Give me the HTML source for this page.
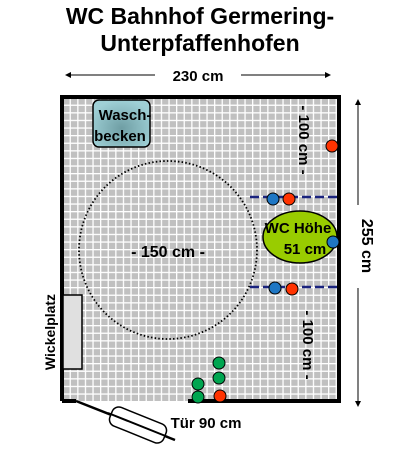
<!DOCTYPE html>
<html><head><meta charset="utf-8"><style>
body{margin:0;background:#fff}
svg text{font-family:"Liberation Sans",sans-serif;font-weight:bold}
</style></head><body>
<svg width="400" height="450" viewBox="0 0 400 450">
<defs>
<pattern id="grid" x="62" y="97" width="7.6" height="7.6" patternUnits="userSpaceOnUse">
<rect width="7.6" height="7.6" fill="#c0c0c0"/>
<path d="M0 0.6H7.6M0.6 0V7.6" stroke="#fff" stroke-width="1.4"/>
</pattern>
<radialGradient id="sink" cx="0.5" cy="0.6" r="0.6"><stop offset="0" stop-color="#6f9ea4"/><stop offset="1" stop-color="#9fd0d6"/></radialGradient>
</defs>
<text x="200" y="24" text-anchor="middle" font-size="23">WC Bahnhof Germering-</text>
<text x="200" y="51" text-anchor="middle" font-size="23">Unterpfaffenhofen</text>
<g>
<line x1="67" y1="75" x2="155" y2="75" stroke="#000"/><path d="M65 75l6-3v6z"/>
<line x1="241" y1="75" x2="328" y2="75" stroke="#000"/><path d="M331 75l-6-3v6z"/>
<text x="198" y="81" text-anchor="middle" font-size="15">230 cm</text>
</g>
<rect x="62" y="97" width="277" height="304" fill="url(#grid)"/>
<g stroke="#000" stroke-width="4" fill="none">
<path d="M62 401V97H339V401H188"/>
<path d="M62 401H76"/>
</g>
<g>
<line x1="76" y1="401" x2="175" y2="440" stroke="#000" stroke-width="2.5"/>
<rect x="-29" y="-10" width="58" height="20" rx="7" fill="#fff" stroke="#000" stroke-width="1.5" transform="translate(138,425) rotate(22)"/>
<line x1="108" y1="413" x2="168" y2="437" stroke="#000" stroke-width="2"/>
<text x="206" y="428" text-anchor="middle" font-size="15">Tür 90 cm</text>
</g>
<g>
<rect x="93" y="100" width="57" height="47" rx="6" fill="url(#sink)" stroke="#000" stroke-width="1.5"/>
<text x="125" y="120" text-anchor="middle" font-size="15">Wasch-</text>
<text x="120" y="141" text-anchor="middle" font-size="15">becken</text>
</g>
<circle cx="168" cy="250" r="89" fill="none" stroke="#000" stroke-width="1.8" stroke-dasharray="1.5 2.2"/>
<text x="168" y="257" text-anchor="middle" font-size="16">- 150 cm -</text>
<g stroke="#1a237e" stroke-width="2.5" stroke-dasharray="9 4">
<line x1="250" y1="197" x2="339" y2="197"/>
<line x1="250" y1="287" x2="339" y2="287"/>
</g>
<ellipse cx="300" cy="237" rx="37" ry="26" fill="#99cc00" stroke="#000" stroke-width="1.5"/>
<text x="298" y="233" text-anchor="middle" font-size="15">WC Höhe</text>
<text x="305" y="254" text-anchor="middle" font-size="15">51 cm</text>
<g stroke="#000" stroke-width="1">
<circle cx="273" cy="199" r="6" fill="#1f77c4"/><circle cx="289" cy="199" r="6" fill="#ff3300"/>
<circle cx="275" cy="288" r="6" fill="#1f77c4"/><circle cx="292" cy="289" r="6" fill="#ff3300"/>
<circle cx="332" cy="146" r="6" fill="#ff3300"/><circle cx="333" cy="242" r="6" fill="#1f77c4"/>
<circle cx="219" cy="363" r="6" fill="#00a550"/><circle cx="219" cy="378" r="6" fill="#00a550"/>
<circle cx="198" cy="384" r="6" fill="#00a550"/><circle cx="198" cy="397" r="6" fill="#00a550"/>
<circle cx="220" cy="396" r="6" fill="#ff3300"/>
</g>
<rect x="63" y="295" width="19" height="74" fill="#e0e0e0" stroke="#000" stroke-width="1.5"/>
<text transform="translate(55,332) rotate(-90)" text-anchor="middle" font-size="14">Wickelplatz</text>
<text transform="translate(299,140) rotate(90)" text-anchor="middle" font-size="15">- 100 cm -</text>
<text transform="translate(303,345) rotate(90)" text-anchor="middle" font-size="15">- 100 cm -</text>
<g>
<line x1="358" y1="102" x2="358" y2="205" stroke="#000"/><path d="M358 99l-3 6h6z"/>
<line x1="358" y1="288" x2="358" y2="404" stroke="#000"/><path d="M358 407l-3-6h6z"/>
<text transform="translate(362,246) rotate(90)" text-anchor="middle" font-size="16">255 cm</text>
</g>
</svg>
</body></html>
